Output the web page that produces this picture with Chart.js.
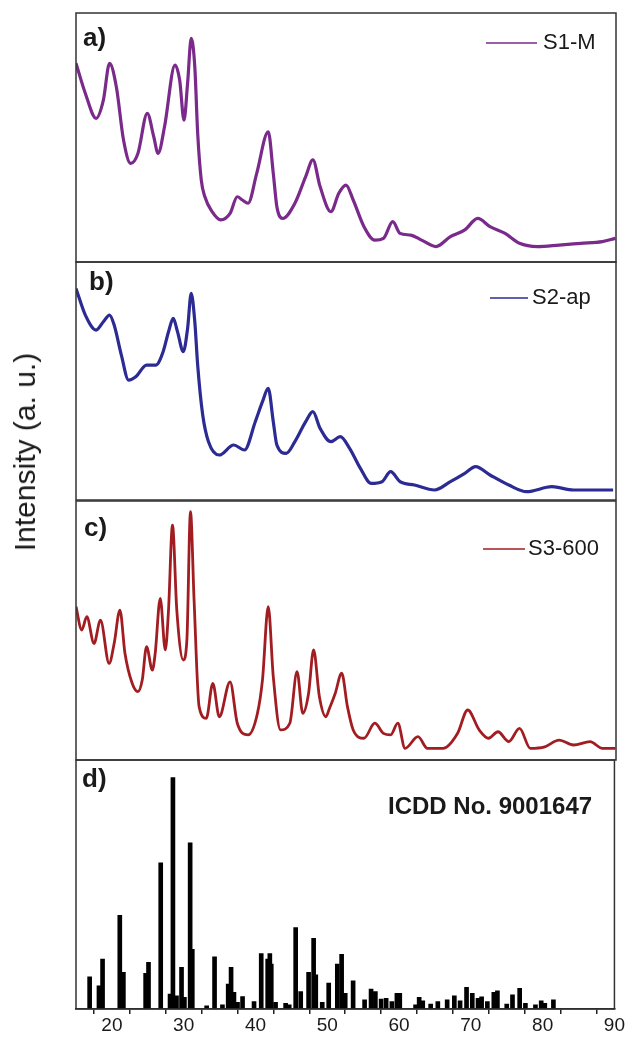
<!DOCTYPE html>
<html>
<head>
<meta charset="utf-8">
<script src="https://cdn.jsdelivr.net/npm/chart.js@4.4.0/dist/chart.umd.min.js"></script>
<style>
  body { margin: 0; background: #fff; }
  #page { position: relative; width: 627px; height: 1037px; overflow: hidden; }
  canvas { position: absolute; left: 0; }
  #ytitle {
    position: absolute; left: 25px; top: 452px;
    transform: translate(-50%, -50%) rotate(-90deg);
    font: 30px "Liberation Sans", Arial, sans-serif; color: #1a1a1a; white-space: nowrap;
  }
</style>
</head>
<body>
<div id="page">
  <canvas id="panelA" width="627" height="255" style="top:10px"></canvas>
  <canvas id="panelB" width="627" height="244" style="top:259px"></canvas>
  <canvas id="panelC" width="627" height="265" style="top:498px"></canvas>
  <canvas id="panelD" width="627" height="280" style="top:757px"></canvas>
  <div id="ytitle">Intensity (a. u.)</div>
</div>
<script>
// 2-theta (deg) and relative intensity (0-100 of each panel height)
const s1Angle = [15.0, 16.3, 17.8, 18.8, 19.66, 20.6, 21.6, 22.6, 23.6, 24.9, 25.8, 26.4, 27.3, 28.75, 29.4, 30.0, 30.5, 31.0, 31.5, 31.9, 32.4, 32.9, 33.9, 35.1, 36.4, 37.4, 38.1, 38.9, 40.1, 41.7, 42.4, 42.9, 43.7, 45.4, 46.9, 47.9, 48.9, 50.4, 51.5, 52.5, 53.5, 55.0, 56.5, 57.7, 59.0, 60.0, 61.5, 63.0, 65.0, 67.0, 69.0, 70.8, 72.5, 74.6, 76.6, 79.1, 82.1, 85.1, 88.1, 89.9]
const s1Value = [79.8, 67.7, 57.7, 65, 79.8, 70.4, 49, 39.6, 43.6, 59.7, 50.3, 43.6, 54.4, 79.1, 73, 57, 71.8, 89.8, 78.4, 51.7, 32.9, 26.2, 20.2, 16.9, 19.5, 26.2, 24.9, 23.6, 35.6, 52.3, 35.6, 22.2, 17.5, 23.6, 34.3, 41, 30.3, 20.2, 27.6, 30.9, 24.9, 14.2, 8.8, 9.5, 16.2, 11.5, 10.8, 8.8, 6.2, 10.2, 12.9, 17.5, 14.2, 11.5, 7.5, 6.2, 6.8, 7.5, 8.2, 9.5]

const s2Angle = [15.0, 16.3, 17.8, 18.8, 19.66, 20.3, 21.3, 22.3, 23.3, 24.8, 26.1, 27.1, 27.85, 28.5, 29.1, 29.9, 30.5, 31.0, 31.5, 31.9, 32.6, 33.4, 34.9, 36.9, 38.4, 39.9, 40.9, 41.7, 42.4, 42.9, 44.2, 45.4, 46.9, 47.9, 48.9, 50.4, 51.7, 53.0, 54.5, 56.0, 57.5, 58.7, 60.0, 62.0, 64.8, 67.0, 69.0, 70.5, 72.5, 75.1, 77.6, 81.1, 84.1, 87.1, 89.6]
const s2Value = [88.9, 77.7, 71.4, 74.9, 77.7, 73.5, 60.9, 50.4, 51.8, 56.7, 56.7, 62.3, 70.7, 76.3, 70.7, 62.3, 72.1, 86.8, 74.9, 56.7, 35.7, 24.5, 18.9, 23.1, 21, 32.9, 41.3, 46.9, 32.9, 23.1, 19.6, 24.5, 32.9, 37.1, 30.1, 24.5, 26.6, 21.7, 13.3, 7, 7.7, 11.9, 7.7, 6.3, 4.2, 7.7, 11.2, 14, 10.5, 6.3, 3.5, 5.6, 4.2, 4.2, 4.2]

const s3Angle = [15.0, 15.8, 16.5, 17.5, 18.4, 19.6, 20.3, 21.1, 21.8, 22.8, 23.6, 24.2, 24.8, 25.6, 26.0, 26.7, 27.4, 27.85, 28.4, 29.0, 29.9, 30.4, 30.9, 31.4, 32.1, 33.1, 34.0, 34.9, 36.4, 37.4, 38.9, 40.2, 40.9, 41.7, 42.4, 43.4, 44.7, 45.7, 46.5, 47.3, 48.0, 48.8, 49.7, 50.2, 51.0, 51.9, 52.7, 53.5, 55.0, 56.5, 57.7, 58.7, 59.7, 60.7, 62.5, 63.8, 66.0, 68.0, 69.4, 71.0, 72.3, 73.6, 75.1, 76.6, 78.1, 80.1, 82.1, 84.1, 86.4, 88.1, 89.9]
const s3Value = [59.2, 50.2, 55.3, 45, 54, 37.3, 45, 57.9, 41.2, 29.6, 26.4, 30.9, 43.8, 34.7, 41.2, 62.4, 42.5, 57.9, 90.7, 57.9, 38.6, 46.3, 95.9, 61.8, 20.6, 16.1, 29.6, 16.7, 30.2, 14.2, 9.7, 18, 30.9, 59.2, 32.2, 11.6, 14.2, 34.1, 18, 25.7, 42.5, 24.5, 16.7, 19.9, 25.7, 33.5, 20.6, 11.6, 8.4, 14.2, 10.3, 9.7, 14.2, 4.5, 9, 4.5, 4.5, 10.3, 19.3, 11.6, 8.4, 10.9, 7.1, 12.2, 4.5, 5.1, 7.7, 5.8, 7.1, 4.5, 4.5]

// ICDD No. 9001647 reference lines
const refAngle = [16.9, 18.2, 18.7, 21.1, 21.6, 24.7, 25.1, 26.8, 28.1, 28.5, 29.0, 29.7, 30.1, 30.9, 31.2, 33.2, 34.3, 35.4, 36.2, 36.6, 37.0, 37.5, 38.2, 39.8, 40.8, 41.7, 42.0, 42.2, 42.8, 44.2, 44.7, 45.6, 46.3, 47.4, 48.1, 48.4, 49.3, 50.2, 51.4, 52.0, 52.5, 53.6, 55.2, 56.1, 56.7, 57.5, 58.2, 59.0, 59.7, 60.1, 62.3, 62.8, 63.3, 64.4, 65.4, 66.7, 67.7, 68.5, 69.4, 70.2, 71.0, 71.5, 72.3, 73.2, 73.7, 75.0, 75.8, 76.8, 77.6, 79.0, 79.8, 80.3, 81.5]
const refValue = [12.9, 9.3, 20, 37.6, 14.7, 14.3, 18.7, 58.7, 6, 92.9, 5.3, 16.7, 4.7, 66.7, 24, 1.3, 21, 1.7, 10, 16.7, 6.7, 2.7, 5, 3, 22.3, 20, 22.3, 18, 2.7, 2.3, 1.7, 32.7, 7, 14.7, 28.4, 13.7, 2.7, 10.4, 18, 22, 6.3, 11.3, 3.7, 8, 7, 4, 4.3, 3, 6.3, 6.3, 1.7, 4.7, 3.3, 2, 3, 3.7, 5.3, 3.3, 8.7, 6.3, 4.3, 4.9, 3, 6.7, 7.3, 2, 5.7, 8.3, 2.3, 1.7, 3.3, 2.3, 3.7]

const angleTicks = [20, 30, 40, 50, 60, 70, 80, 90]

const FONT = '"Liberation Sans", Arial, sans-serif'
const INK = '#1a1a1a'

// frame, panel letter, legend line and notes drawn over each panel
const panelDecor = {
  id: 'panelDecor',
  afterDatasetsDraw(chart, args, opts) {
    const { ctx, chartArea } = chart
    ctx.save()
    ctx.strokeStyle = '#333'
    ctx.lineWidth = 1.5
    ctx.strokeRect(chartArea.left, chartArea.top, chartArea.right - chartArea.left, chartArea.bottom - chartArea.top)

    ctx.fillStyle = INK
    ctx.textBaseline = 'middle'
    ctx.font = 'bold 26px ' + FONT
    ctx.fillText(opts.letter, opts.letterX, opts.letterY)

    if (opts.legend) {
      const ds = chart.data.datasets[0]
      ctx.strokeStyle = ds.borderColor
      ctx.lineWidth = 1.5
      ctx.beginPath()
      ctx.moveTo(opts.legend.x1, opts.legend.y)
      ctx.lineTo(opts.legend.x2, opts.legend.y)
      ctx.stroke()
      ctx.font = '22px ' + FONT
      ctx.fillText(ds.label, opts.legend.textX, opts.legend.y)
    }
    if (opts.note) {
      ctx.font = 'bold 24px ' + FONT
      ctx.fillText(opts.note.text, opts.note.x, opts.note.y)
    }
    ctx.restore()
  }
}

function pairs(xs, ys) {
  return xs.map((x, i) => ({ x, y: ys[i] }))
}

function lineOptions(decor) {
  return {
    responsive: false,
    animation: false,
    layout: { padding: { left: 76, right: 11, top: 3, bottom: 3 } },
    plugins: { legend: { display: false }, tooltip: { enabled: false }, panelDecor: decor },
    elements: { point: { radius: 0 } },
    scales: {
      x: { type: 'linear', min: 15, max: 90, display: false },
      y: { min: 0, max: 100, display: false }
    }
  }
}

function lineChart(id, label, angles, values, color, width, decor) {
  // canvas offset so decor coords can be given in page pixels
  const top = parseInt(document.getElementById(id).style.top)
  decor.letterY -= top
  if (decor.legend) decor.legend.y -= top
  return new Chart(document.getElementById(id), {
    type: 'line',
    data: {
      datasets: [{
        label,
        data: pairs(angles, values),
        borderColor: color,
        borderWidth: width,
        cubicInterpolationMode: 'monotone',
        fill: false
      }]
    },
    options: lineOptions(decor),
    plugins: [panelDecor]
  })
}

lineChart('panelA', 'S1-M', s1Angle, s1Value, '#7a2a8a', 3.2, {
  letter: 'a)', letterX: 83, letterY: 39,
  legend: { x1: 486, x2: 537, textX: 543, y: 43 }
})
lineChart('panelB', 'S2-ap', s2Angle, s2Value, '#2b2b93', 3.2, {
  letter: 'b)', letterX: 89, letterY: 283,
  legend: { x1: 490, x2: 528, textX: 532, y: 298 }
})
lineChart('panelC', 'S3-600', s3Angle, s3Value, '#a11d22', 2.8, {
  letter: 'c)', letterX: 84, letterY: 529,
  legend: { x1: 483, x2: 525, textX: 528, y: 549 }
})

new Chart(document.getElementById('panelD'), {
  type: 'bar',
  data: {
    datasets: [{
      label: 'ICDD No. 9001647',
      data: pairs(refAngle, refValue),
      backgroundColor: '#000',
      barThickness: 4
    }]
  },
  options: {
    responsive: false,
    animation: false,
    layout: { padding: { left: 76, right: 11, top: 3, bottom: 0 } },
    plugins: {
      legend: { display: false },
      tooltip: { enabled: false },
      panelDecor: {
        letter: 'd)', letterX: 82, letterY: 780 - 757,
        note: { text: 'ICDD No. 9001647', x: 388, y: 807 - 757 }
      }
    },
    scales: {
      x: {
        type: 'linear', min: 15, max: 90, offset: false,
        ticks: {
          stepSize: 5, autoSkip: false, maxRotation: 0, padding: 2,
          color: INK, font: { family: FONT, size: 19, lineHeight: 1 },
          callback: v => angleTicks.includes(v) ? String(v) : ''
        },
        grid: { drawOnChartArea: false, tickLength: 5, color: '#222', lineWidth: 1.5 },
        border: { color: '#222', width: 1.5 }
      },
      y: { min: 0, max: 100, display: false }
    }
  },
  plugins: [panelDecor]
})
</script>
</body>
</html>
